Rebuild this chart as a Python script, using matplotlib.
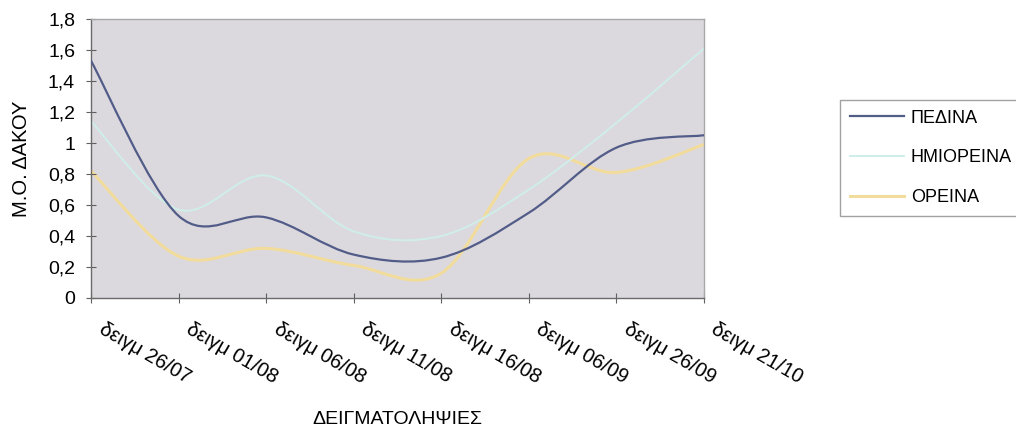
import matplotlib
matplotlib.use("Agg")
import matplotlib.pyplot as plt
from matplotlib.path import Path
from matplotlib.patches import PathPatch
from matplotlib.lines import Line2D
from matplotlib.ticker import FuncFormatter, MultipleLocator
import matplotlib.transforms as mtransforms

plt.rcParams["font.family"] = ["Liberation Sans", "DejaVu Sans"]

# data
samples = ["δειγμ 26/07", "δειγμ 01/08", "δειγμ 06/08", "δειγμ 11/08",
           "δειγμ 16/08", "δειγμ 06/09", "δειγμ 26/09", "δειγμ 21/10"]
pedina = [1.53, 0.53, 0.52, 0.28, 0.26, 0.55, 0.97, 1.05]
imioreina = [1.14, 0.57, 0.79, 0.43, 0.40, 0.70, 1.13, 1.61]
oreina = [0.82, 0.27, 0.32, 0.21, 0.16, 0.90, 0.81, 0.99]

series = [
    ("ΠΕΔΙΝΑ", pedina, "#525c88", 1.6, 3),
    ("ΗΜΙΟΡΕΙΝΑ", imioreina, "#cfeee9", 1.4, 2),
    ("ΟΡΕΙΝΑ", oreina, "#f2dc9c", 2.2, 1),
]


def smooth_path(xs, ys):
    # Excel-style smoothed line: cubic bezier through every point
    pts = list(zip(xs, ys))
    n = len(pts)
    verts = [pts[0]]
    codes = [Path.MOVETO]
    for i in range(n - 1):
        p0 = pts[max(i - 1, 0)]
        p1 = pts[i]
        p2 = pts[i + 1]
        p3 = pts[min(i + 2, n - 1)]
        c1 = (p1[0] + (p2[0] - p0[0]) / 6, p1[1] + (p2[1] - p0[1]) / 6)
        c2 = (p2[0] - (p3[0] - p1[0]) / 6, p2[1] - (p3[1] - p1[1]) / 6)
        verts += [c1, c2, p2]
        codes += [Path.CURVE4] * 3
    return Path(verts, codes)


fig = plt.figure(figsize=(10.16, 4.30), dpi=100)
ax = fig.add_axes([91 / 1016, 1 - 298 / 430, 613 / 1016, 279 / 430])
ax.set_facecolor("#dcd9de")

x = list(range(len(samples)))
handles = []
for name, vals, col, lw, z in series:
    ax.add_patch(PathPatch(smooth_path(x, vals), facecolor="none",
                           edgecolor=col, lw=lw, zorder=z, capstyle="round"))
    handles.append(Line2D([], [], color=col, lw=lw, label=name))

ax.set_xlim(0, len(samples) - 1)
ax.set_ylim(0, 1.8)
ax.yaxis.set_major_locator(MultipleLocator(0.2))
ax.yaxis.set_major_formatter(FuncFormatter(lambda v, p: f"{v:.1f}".rstrip("0").rstrip(".").replace(".", ",")))

# category labels, rotated, hung below each tick
ax.set_xticks(x)
ax.set_xticklabels([])
lab_tr = ax.get_xaxis_transform() + mtransforms.ScaledTranslation(
    14 / 100, -22 / 100, fig.dpi_scale_trans)
for xi, s in zip(x, samples):
    ax.text(xi, 0, s, transform=lab_tr, rotation=-30, ha="left", va="top",
            rotation_mode="anchor", fontsize=14.5, clip_on=False)

ax.tick_params(axis="both", direction="inout", length=7, width=0.8,
               color="#606060")
ax.tick_params(axis="y", pad=8, labelsize=14)

for side in ["top", "right"]:
    ax.spines[side].set_color("#a8a8a8")
    ax.spines[side].set_linewidth(1.0)
for side in ["left", "bottom"]:
    ax.spines[side].set_color("#6a6a6a")
    ax.spines[side].set_linewidth(1.0)

ax.set_ylabel("Μ.Ο. ΔΑΚΟΥ", fontsize=14.5, va="center")
ax.yaxis.set_label_coords((22 - 91) / 613, 0.5)
ax.set_xlabel("ΔΕΙΓΜΑΤΟΛΗΨΙΕΣ", fontsize=14, va="center")
ax.xaxis.set_label_coords(0.5, (298 - 419) / 279)

fig.legend(handles=handles, loc="upper left",
           bbox_to_anchor=(840 / 1016, 1 - 100 / 430), fontsize=13,
           frameon=True, fancybox=False, edgecolor="#8a8a8a",
           borderaxespad=0, borderpad=0.53, handlelength=3.0,
           handletextpad=0.4, labelspacing=1.26)

fig.savefig("out.png", dpi=100, facecolor="white")
